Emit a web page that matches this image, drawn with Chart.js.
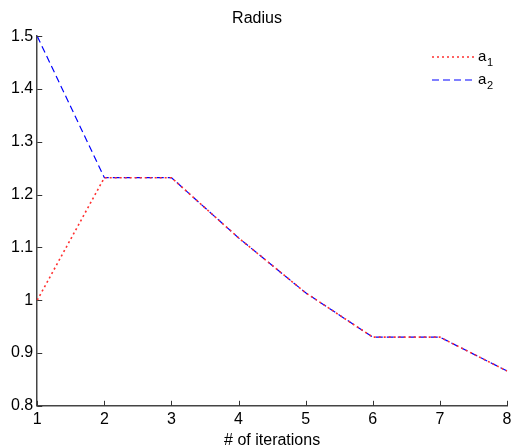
<!DOCTYPE html>
<html>
<head>
<meta charset="utf-8">
<script src="https://cdn.jsdelivr.net/npm/chart.js@4"></script>
<style>
  html, body { margin: 0; padding: 0; background: #fff; }
  #wrap { width: 511px; height: 445px; }
</style>
</head>
<body>
<div id="wrap"><canvas id="myChart" width="511" height="445"></canvas></div>
<script>
const iterations = ["1", "2", "3", "4", "5", "6", "7", "8"];
const a1 = [1.0, 1.232, 1.232, 1.118, 1.014, 0.93, 0.93, 0.866];
const a2 = [1.5, 1.232, 1.232, 1.118, 1.014, 0.93, 0.93, 0.866];
const yTicks = [0.8, 0.9, 1.0, 1.1, 1.2, 1.3, 1.4, 1.5];

const FONT = "'Liberation Sans', Arial, sans-serif";

// matlab style: ticks point into the plot
const innerTicks = {
  id: "innerTicks",
  afterDatasetsDraw(chart) {
    const { ctx, chartArea: { left, bottom }, scales: { x, y } } = chart;
    ctx.save();
    ctx.strokeStyle = "#333";
    ctx.lineWidth = 1;
    ctx.beginPath();
    yTicks.forEach((v) => {
      const py = Math.round(y.getPixelForValue(v)) + 0.5;
      ctx.moveTo(left, py);
      ctx.lineTo(left + 5, py);
    });
    iterations.forEach((lbl, i) => {
      const px = Math.round(x.getPixelForValue(i)) + 0.5;
      ctx.moveTo(px, bottom);
      ctx.lineTo(px, bottom - 5);
    });
    ctx.stroke();
    ctx.restore();
  },
};

const legendBox = {
  id: "legendBox",
  afterDraw(chart) {
    const { ctx } = chart;
    const sets = chart.data.datasets;
    ctx.save();
    sets.forEach((ds, i) => {
      const yy = 57 + i * 23;
      ctx.beginPath();
      ctx.strokeStyle = ds.borderColor;
      ctx.lineWidth = ds.borderWidth;
      ctx.setLineDash(ds.borderDash);
      ctx.moveTo(432, yy);
      ctx.lineTo(474, yy);
      ctx.stroke();
      ctx.setLineDash([]);
      ctx.fillStyle = "#000";
      ctx.textBaseline = "alphabetic";
      ctx.font = "15px " + FONT;
      ctx.fillText("a", 478, yy + 4);
      ctx.font = "11px " + FONT;
      ctx.fillText(String(i + 1), 487, yy + 9);
    });
    ctx.restore();
  },
};

const ctx = document.getElementById("myChart");
new Chart(ctx, {
  type: "line",
  data: {
    labels: iterations,
    datasets: [
      {
        label: "a1",
        data: a1,
        borderColor: "#ff3030",
        borderWidth: 1.6,
        borderDash: [2, 3],
        pointRadius: 0,
        tension: 0,
        fill: false,
      },
      {
        label: "a2",
        data: a2,
        borderColor: "#0000ff",
        borderWidth: 1.2,
        borderDash: [7, 4],
        pointRadius: 0,
        tension: 0,
        fill: false,
      },
    ],
  },
  options: {
    responsive: false,
    animation: false,
    layout: {
      padding: { left: 7, right: 4, top: 0, bottom: -4 },
    },
    plugins: {
      legend: { display: false },
      tooltip: { enabled: false },
      title: {
        display: true,
        text: "Radius",
        color: "#000",
        font: { family: FONT, size: 16, weight: "normal" },
        padding: { top: 9, bottom: 8 },
      },
    },
    scales: {
      x: {
        type: "category",
        offset: false,
        afterFit(scale) {
          scale.paddingRight = 0;
        },
        grid: { display: false, drawTicks: false },
        border: { display: true, color: "#444", width: 1.5 },
        ticks: {
          color: "#000",
          font: { family: FONT, size: 16 },
          padding: 4,
          maxRotation: 0,
          autoSkip: false,
        },
        title: {
          display: true,
          text: "# of iterations",
          color: "#000",
          font: { family: FONT, size: 16, lineHeight: 1 },
          padding: { top: 0, bottom: 0 },
        },
      },
      y: {
        min: 0.8,
        max: 1.5,
        grid: { display: false, drawTicks: false },
        border: { display: true, color: "#444", width: 1.5 },
        afterBuildTicks(scale) {
          scale.ticks = yTicks.map((v) => ({ value: v }));
        },
        ticks: {
          color: "#000",
          font: { family: FONT, size: 16 },
          padding: 4,
          callback: (v) => String(Math.round(v * 10) / 10),
        },
      },
    },
  },
  plugins: [innerTicks, legendBox],
});
</script>
</body>
</html>
